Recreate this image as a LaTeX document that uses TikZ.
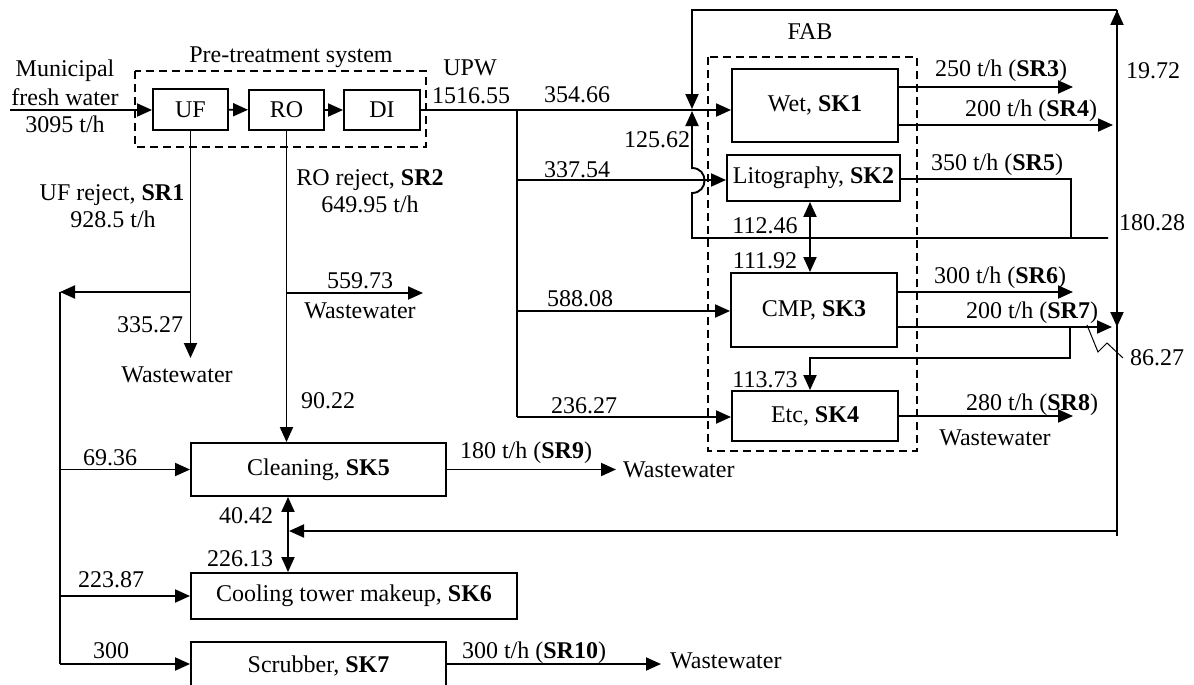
\documentclass[tikz,border=0pt]{standalone}
\usepackage{fontspec}
\setmainfont{Liberation Serif}
\usetikzlibrary{arrows.meta}
\begin{document}
\begin{tikzpicture}[x=1pt,y=-1pt,
  every node/.style={font=\fontsize{24}{28}\selectfont, inner sep=0pt},
  box/.style={draw, line width=1.9pt, inner sep=0pt},
  flow/.style={line width=1.9pt},
  arr/.style={flow, -{Triangle[length=15pt,width=13pt]}},
  darr/.style={flow, {Triangle[length=15pt,width=13pt]}-{Triangle[length=15pt,width=13pt]}},
  dbox/.style={draw, line width=1.3pt, dash pattern=on 8pt off 5pt},
  lbl/.style={anchor=base},
  lblw/.style={anchor=base west},
]
\useasboundingbox (0,0) rectangle (1194,685);

% dashed groups
\draw[dbox] (135,71) rectangle (426,147);
\draw[dbox] (708,57) rectangle (917,451);

% boxes
\node[box, minimum width=75pt, minimum height=41pt] (UF) at (190.5,109.5) {UF};
\node[box, minimum width=75pt, minimum height=40pt] (RO) at (286.5,110) {RO};
\node[box, minimum width=76pt, minimum height=40pt] (DI) at (382,110) {DI};
\node[box, minimum width=166pt, minimum height=73pt] (Wet) at (815,105.5) {Wet, \textbf{SK1}};
\node[box, minimum width=173pt, minimum height=46pt] (SK2) at (813.5,178) {Litography, \textbf{SK2}};
\node[box, minimum width=166pt, minimum height=74pt] (CMP) at (814,310) {CMP, \textbf{SK3}};
\node[box, minimum width=166pt, minimum height=50pt] (Etc) at (815,416) {Etc, \textbf{SK4}};
\node[box, minimum width=255pt, minimum height=53pt] (Cln) at (318.5,469.5) {Cleaning, \textbf{SK5}};
\node[box, minimum width=326pt, minimum height=46pt] (Cool) at (354,596) {Cooling tower makeup, \textbf{SK6}};
\node[box, minimum width=255pt, minimum height=48pt] (Scr) at (318.5,666) {Scrubber, \textbf{SK7}};

% coordinates
\coordinate (in) at (10,110);
\coordinate (j1) at (517,110);
\coordinate (j2) at (517,180);
\coordinate (j3) at (517,311);
\coordinate (j4) at (517,417);
\coordinate (sr3) at (1073,87);
\coordinate (sr4) at (1113,125);
\coordinate (sr5a) at (1071,179);
\coordinate (sr5b) at (1071,238);
\coordinate (h1) at (1108,238);
\coordinate (h2) at (692,238);
\coordinate (jp1) at (692,193);
\coordinate (jp2) at (692,168);
\coordinate (up) at (692,111);
\coordinate (dn) at (692,109);
\coordinate (tl) at (692,10);
\coordinate (R0) at (1117,10);
\coordinate (R1) at (1117,125);
\coordinate (R2) at (1117,327);
\coordinate (Rr) at (1117,531);
\coordinate (Rb) at (1117,536);
\coordinate (sr6) at (1073,292);
\coordinate (sr7) at (1112,327);
\coordinate (b1) at (1070,327);
\coordinate (b2) at (1070,358);
\coordinate (b3) at (810,358);
\coordinate (d1) at (810,0);
\coordinate (sr8) at (1073,416);
\coordinate (z1) at (1087,325);
\coordinate (z2) at (1098,352);
\coordinate (z3) at (1107,343);
\coordinate (z4) at (1123,358);
\coordinate (ret) at (289,531);
\coordinate (c1) at (288,0);
\coordinate (sr9) at (616,469.5);
\coordinate (s10a) at (446,664);
\coordinate (s10b) at (661,664);
\coordinate (ufend) at (190.5,358);
\coordinate (ufb) at (190.5,292);
\coordinate (L0) at (60,292);
\coordinate (L1) at (60,469.5);
\coordinate (L2) at (60,596);
\coordinate (L3) at (60,664);
\coordinate (rob) at (286.5,293);
\coordinate (roe) at (423,293);

% pre-treatment
\draw[arr] (in) -- (UF.west |- in);
\draw[arr] (UF) -- (RO);
\draw[arr] (RO) -- (DI);
\draw[arr] (DI.east |- j1) -- (Wet.west |- j1);

% UPW distribution
\draw[flow] (j1) -- (j4);
\draw[arr] (j2) -- (SK2.west |- j2);
\draw[arr] (j3) -- (CMP.west |- j3);
\draw[arr] (j4) -- (Etc.west |- j4);

% FAB outputs
\draw[arr] (Wet.east |- sr3) -- (sr3);
\draw[arr] (Wet.east |- sr4) -- (sr4);
\draw[flow] (SK2.east |- sr5a) -- (sr5a) -- (sr5b);
\draw[arr] (h1) -- (h2) -- (jp1) .. controls (708.7,193) and (708.7,168) .. (jp2) -- (up);
\draw[flow] (R0) -- (Rb);
\draw[arr] (R1) -- (R0);
\draw[arr] (R1) -- (R2);
\draw[arr] (R0) -- (tl) -- (dn);
\draw[arr] (CMP.east |- sr6) -- (sr6);
\draw[arr] (CMP.east |- sr7) -- (sr7);
\draw[arr] (b1) -- (b2) -- (b3) -- (b3 |- Etc.north);
\draw[darr] (d1 |- SK2.south) -- (d1 |- CMP.north);
\draw[arr] (Etc.east |- sr8) -- (sr8);
\draw[line width=1pt] (z1) -- (z2) -- (z3) -- (z4);
\draw[arr] (Rr) -- (ret);

% utilities
\draw[darr] (c1 |- Cln.south) -- (c1 |- Cool.north);
\draw[arr] (Cln.east) -- (sr9);
\draw[arr] (s10a) -- (s10b);
\draw[arr] (UF.south) -- (ufend);
\draw[arr] (ufb) -- (L0);
\draw[flow] (L0) -- (L3);
\draw[arr] (L1) -- (Cln.west);
\draw[arr] (L2) -- (Cool.west);
\draw[arr] (L3) -- (Scr.west |- L3);
\draw[arr] (RO.south) -- (RO.south |- Cln.north);
\draw[arr] (rob) -- (roe);

% labels
\node[lbl] (t1) at (65,77) {Municipal};
\node[lbl] (t2) at (65,105) {fresh water};
\node[lbl] (t3) at (65,132) {3095 t/h};
\node[lbl] (t4) at (291,63) {Pre-treatment system};
\node[lbl] (t5) at (470,76) {UPW};
\node[lbl] (t6) at (471,103) {1516.55};
\node[lbl] (t7) at (112,200) {UF reject, \textbf{SR1}};
\node[lbl] (t8) at (113,227) {928.5 t/h};
\node[lbl] (t9) at (370,185) {RO reject, \textbf{SR2}};
\node[lbl] (t10) at (370,212) {649.95 t/h};
\node[lbl] (t11) at (360,288) {559.73};
\node[lbl] (t12) at (360,318) {Wastewater};
\node[lbl] (t13) at (150,332) {335.27};
\node[lbl] (t14) at (177,382) {Wastewater};
\node[lbl] (t15) at (328,408) {90.22};
\node[lbl] (t16) at (577,102) {354.66};
\node[lbl] (t17) at (577,177) {337.54};
\node[lbl] (t18) at (657,147) {125.62};
\node[lbl] (t19) at (810,40) {FAB};
\node[lbl] (t20) at (1001,77) {250 t/h (\textbf{SR3})};
\node[lbl] (t21) at (1031,116) {200 t/h (\textbf{SR4})};
\node[lbl] (t22) at (1153,78) {19.72};
\node[lbl] (t23) at (997,170) {350 t/h (\textbf{SR5})};
\node[lbl] (t24) at (1152,230) {180.28};
\node[lbl] (t25) at (765,233) {112.46};
\node[lbl] (t26) at (765,268) {111.92};
\node[lbl] (t27) at (1000,283) {300 t/h (\textbf{SR6})};
\node[lbl] (t28) at (1032,318) {200 t/h (\textbf{SR7})};
\node[lbl] (t29) at (580,306) {588.08};
\node[lbl] (t30) at (1157,365) {86.27};
\node[lbl] (t31) at (765,387) {113.73};
\node[lbl] (t32) at (584,413) {236.27};
\node[lbl] (t33) at (1032,410) {280 t/h (\textbf{SR8})};
\node[lbl] (t34) at (995,445) {Wastewater};
\node[lbl] (t35) at (110,465) {69.36};
\node[lbl] (t36) at (526,458) {180 t/h (\textbf{SR9})};
\node[lblw] (t37) at (623,477) {Wastewater};
\node[lbl] (t38) at (246,523) {40.42};
\node[lbl] (t39) at (240,566) {226.13};
\node[lbl] (t40) at (111,587) {223.87};
\node[lbl] (t41) at (111,658) {300};
\node[lbl] (t42) at (534,658) {300 t/h (\textbf{SR10})};
\node[lblw] (t43) at (670,668) {Wastewater};
\end{tikzpicture}
\end{document}
